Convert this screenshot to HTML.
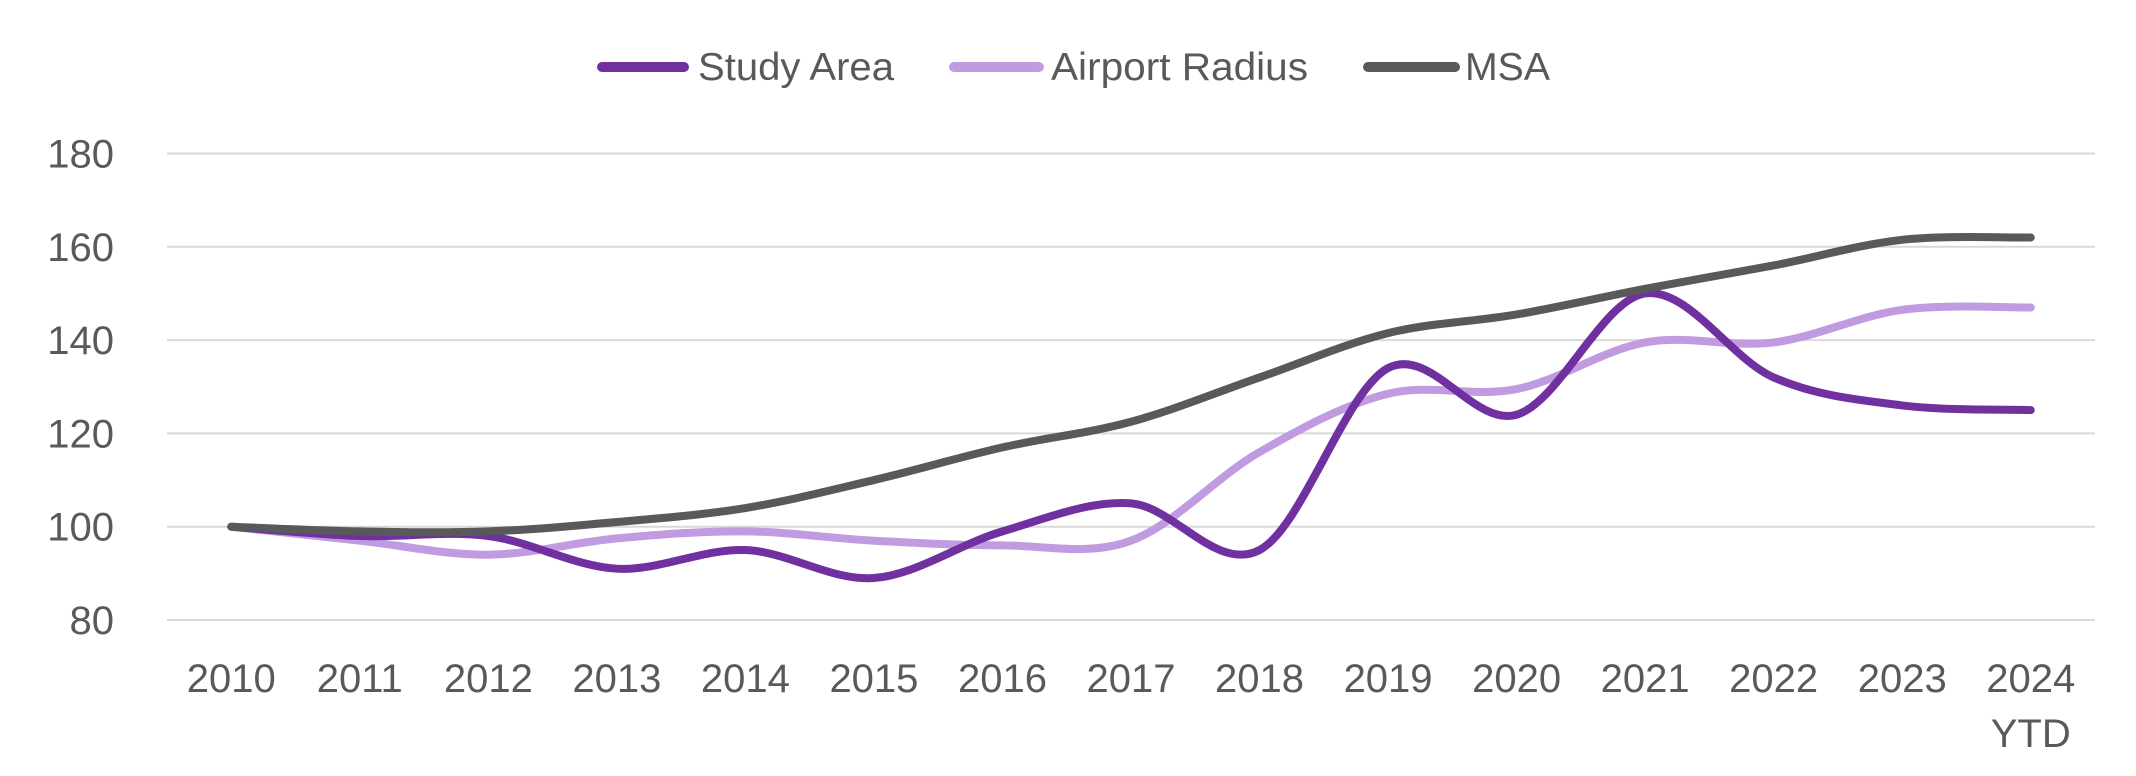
<!DOCTYPE html>
<html><head><meta charset="utf-8">
<style>
html,body{margin:0;padding:0;background:#fff;}
svg{display:block;font-family:"Liberation Sans",Arial,sans-serif;}
</style></head>
<body>
<svg id="chart" width="2136" height="776" viewBox="0 0 2136 776" xmlns="http://www.w3.org/2000/svg">
  <g id="legend">
    <g>
      <line x1="602" y1="67" x2="684" y2="67" stroke="#7030a0" stroke-width="10" stroke-linecap="round"/>
      <text x="698" y="80" font-size="39" fill="#595959" textLength="196" lengthAdjust="spacingAndGlyphs">Study Area</text>
    </g>
    <g>
      <line x1="954" y1="67" x2="1039" y2="67" stroke="#c09be0" stroke-width="10" stroke-linecap="round"/>
      <text x="1051" y="80" font-size="39" fill="#595959" textLength="257" lengthAdjust="spacingAndGlyphs">Airport Radius</text>
    </g>
    <g>
      <line x1="1368" y1="67" x2="1455" y2="67" stroke="#595959" stroke-width="10" stroke-linecap="round"/>
      <text x="1465" y="80" font-size="39" fill="#595959" textLength="85" lengthAdjust="spacingAndGlyphs">MSA</text>
    </g>
  </g>
  <g id="grid"></g>
  <g id="yaxis"></g>
  <g id="xaxis"></g>
  <g id="series"></g>
</svg>
<script>
const categories = ["2010","2011","2012","2013","2014","2015","2016","2017","2018","2019","2020","2021","2022","2023","2024"];
const studyArea = [100,98,98,91,95,89,99,105,95,134,124,150,132,126,125];
const airportRadius = [100,97,94,97.5,99,97,96,97,116,128.5,129.5,139.5,139.5,146.5,147];
const msa = [100,99,99,101,104,110,117,122.5,132,141.5,145.5,151,156,161.5,162];
const yTicks = [80,100,120,140,160,180];

const NS = "http://www.w3.org/2000/svg";
const plotL = 167, plotR = 2095, yMin = 80, yMax = 180, yTop = 153.5, yBot = 620;
const band = (plotR - plotL) / categories.length;
function xs(i){ return plotL + band * (i + 0.5); }
function ys(v){ return yBot - (v - yMin) / (yMax - yMin) * (yBot - yTop); }
function mk(tag, attrs, parent){ const e = document.createElementNS(NS, tag); for (const k in attrs) e.setAttribute(k, attrs[k]); parent.appendChild(e); return e; }

const grid = document.getElementById('grid');
const yaxis = document.getElementById('yaxis');
yTicks.forEach(t => {
  const l = mk('line', {x1: plotL, x2: plotR, y1: ys(t), y2: ys(t), stroke: '#d9d9d9', 'stroke-width': 2}, grid);
  
  
  const tx = mk('text', {x: 114, y: ys(t) + 14, 'text-anchor': 'end', 'font-size': 40, fill: '#595959'}, yaxis);
  tx.textContent = t;
  
  
});
const xaxis = document.getElementById('xaxis');
categories.forEach((c, i) => {
  const tx = mk('text', {x: xs(i), y: 692, 'text-anchor': 'middle', 'font-size': 40, fill: '#595959'}, xaxis);
  tx.textContent = c;
  
  
  if (i === categories.length - 1) {
    const t2 = mk('text', {x: xs(i), y: 747, 'text-anchor': 'middle', 'font-size': 40, fill: '#595959'}, xaxis);
    t2.textContent = 'YTD';
    
    
  }
});
function smoothPath(vals){
  const p = vals.map((v, i) => [xs(i), ys(v)]);
  let d = 'M' + p[0][0] + ',' + p[0][1];
  for (let i = 0; i < p.length - 1; i++) {
    const p0 = p[i - 1] || p[i], p1 = p[i], p2 = p[i + 1], p3 = p[i + 2] || p[i + 1];
    const c1 = [p1[0] + (p2[0] - p0[0]) / 6, p1[1] + (p2[1] - p0[1]) / 6];
    const c2 = [p2[0] - (p3[0] - p1[0]) / 6, p2[1] - (p3[1] - p1[1]) / 6];
    d += ' C' + c1.join(',') + ' ' + c2.join(',') + ' ' + p2.join(',');
  }
  return d;
}
const series = document.getElementById('series');
[[airportRadius, '#c09be0', 'airport-radius-line'], [studyArea, '#7030a0', 'study-area-line'], [msa, '#595959', 'msa-line']].forEach(s => {
  const path = mk('path', {d: smoothPath(s[0]), fill: 'none', stroke: s[1], 'stroke-width': 8, 'stroke-linecap': 'round', 'stroke-linejoin': 'round'}, series);
  
  
});
</script>
</body></html>
